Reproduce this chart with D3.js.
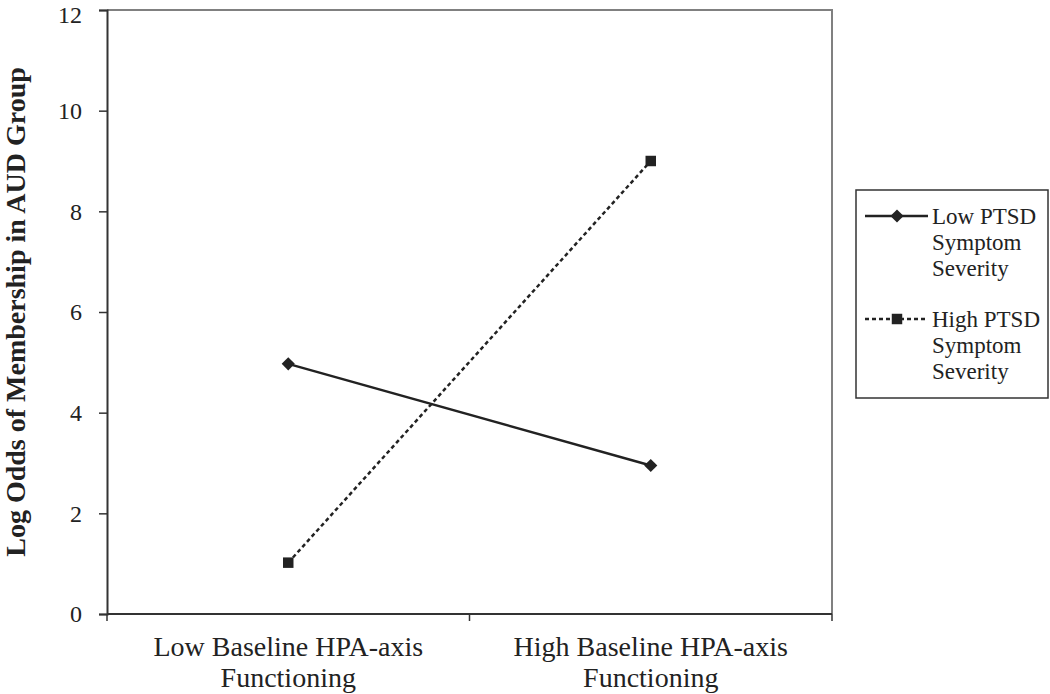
<!DOCTYPE html>
<html>
<head>
<meta charset="utf-8">
<script src="https://cdn.jsdelivr.net/npm/d3@7"></script>
<style>
  body { margin: 0; background: #fff; }
  svg text { font-family: "Liberation Serif", "Times New Roman", serif; fill: #222; }
</style>
</head>
<body>
<div id="box1"><svg id="box1_svg"></svg></div>
<script>
"use strict";

// data
const categories = ["Low Baseline HPA-axis|Functioning", "High Baseline HPA-axis|Functioning"];
const series_names = ["Low PTSD|Symptom|Severity", "High PTSD|Symptom|Severity"];
const low_ptsd = [4.97, 2.95];
const high_ptsd = [1.02, 9.0];
const y_ticks = [0, 2, 4, 6, 8, 10, 12];

const W = 1050, H = 694;
const m = { left: 107, right: 218, top: 10, bottom: 80 };

const svg = d3.select("#box1_svg").attr("width", W).attr("height", H);

const x = d3.scaleBand().domain(categories).range([m.left, W - m.right]);
const y = d3.scaleLinear().domain([0, 12]).range([H - m.bottom, m.top]);

// top and right frame
svg.append("path")
  .attr("d", `M${m.left},${m.top}H${W - m.right}V${H - m.bottom}`)
  .attr("fill", "none").attr("stroke", "#808080").attr("stroke-width", 2);

// y axis
const gy = svg.append("g")
  .attr("transform", `translate(${m.left},0)`)
  .call(d3.axisLeft(y).tickValues(y_ticks).tickSize(8).tickPadding(17));
gy.select(".domain").attr("stroke", "#333").attr("stroke-width", 2);
gy.selectAll(".tick line").attr("stroke", "#333").attr("stroke-width", 1.5);
gy.selectAll(".tick text")
  .attr("font-size", 24).attr("font-family", "Liberation Serif").attr("fill", "#222");
// keep the top label inside the picture
gy.selectAll(".tick text").filter(d => d === 12).attr("dy", "0.5em");

// x axis (ticks at band edges)
const gx = svg.append("g").attr("transform", `translate(0,${H - m.bottom})`);
gx.append("line")
  .attr("x1", m.left).attr("x2", W - m.right)
  .attr("stroke", "#333").attr("stroke-width", 2);
const edges = categories.map(c => x(c)).concat([x(categories[1]) + x.bandwidth()]);
gx.selectAll(".edge").data(edges).join("line")
  .attr("x1", d => d).attr("x2", d => d).attr("y1", 0).attr("y2", 7)
  .attr("stroke", "#333").attr("stroke-width", 1.5);
gx.selectAll(".cat").data(categories).join("text")
  .attr("text-anchor", "middle")
  .attr("font-size", 28)
  .attr("transform", d => `translate(${x(d) + x.bandwidth() / 2},0)`)
  .selectAll("tspan").data(d => d.split("|")).join("tspan")
  .attr("x", 0).attr("y", (d, i) => 42 + i * 31)
  .text(d => d);

// y axis title
svg.append("text")
  .attr("transform", `translate(25,${(m.top + H - m.bottom) / 2}) rotate(-90)`)
  .attr("text-anchor", "middle")
  .attr("font-size", 28).attr("font-weight", "bold")
  .text("Log Odds of Membership in AUD Group");

// lines
const cx = (d, i) => x(categories[i]) + x.bandwidth() / 2;
const line = d3.line().x(cx).y(d => y(d));

svg.append("path").datum(low_ptsd).attr("d", line)
  .attr("fill", "none").attr("stroke", "#222").attr("stroke-width", 2.5);
svg.append("path").datum(high_ptsd).attr("d", line)
  .attr("fill", "none").attr("stroke", "#222").attr("stroke-width", 2.5)
  .attr("stroke-dasharray", "4,3");

const diamond = d3.symbol().type(d3.symbolDiamond2).size(110);
const square = d3.symbol().type(d3.symbolSquare2).size(140);

svg.selectAll(".mk1").data(low_ptsd).join("path")
  .attr("d", diamond).attr("fill", "#222")
  .attr("transform", (d, i) => `translate(${cx(d, i)},${y(d)})`);
svg.selectAll(".mk2").data(high_ptsd).join("path")
  .attr("d", square).attr("fill", "#222")
  .attr("transform", (d, i) => `translate(${cx(d, i)},${y(d)})`);

// legend
const lg = svg.append("g");
lg.append("rect")
  .attr("x", 856).attr("y", 190).attr("width", 192).attr("height", 208)
  .attr("fill", "#fff").attr("stroke", "#333").attr("stroke-width", 1.5);

const leg_y = [216, 319];
series_names.forEach((s, k) => {
  const g = lg.append("g").attr("transform", `translate(0,${leg_y[k]})`);
  g.append("line").attr("x1", 865).attr("x2", 928)
    .attr("stroke", "#222").attr("stroke-width", 2.5)
    .attr("stroke-dasharray", k === 1 ? "4,3" : null);
  g.append("path")
    .attr("d", k === 0 ? diamond : square)
    .attr("fill", "#222")
    .attr("transform", "translate(897,0)");
  g.append("text").attr("font-size", 23)
    .selectAll("tspan").data(s.split("|")).join("tspan")
    .attr("x", 932).attr("y", (d, i) => 8 + i * 26)
    .text(d => d);
});
</script>
</body>
</html>
